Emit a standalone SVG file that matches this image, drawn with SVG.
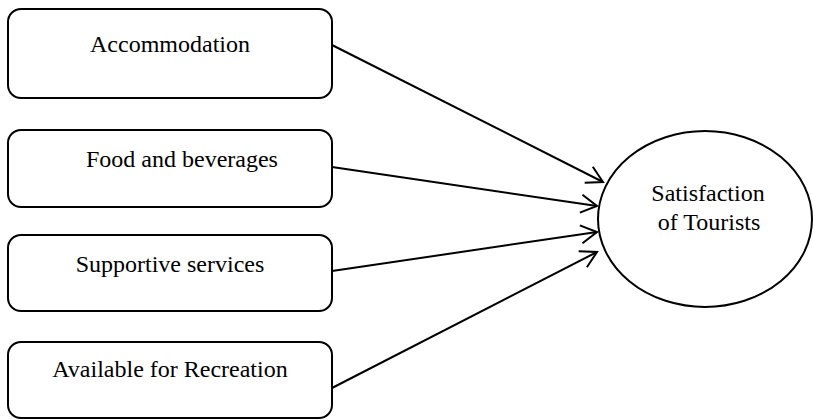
<svg xmlns="http://www.w3.org/2000/svg" width="813" height="420" viewBox="0 0 813 420">
<defs>
<marker id="arr" markerUnits="userSpaceOnUse" markerWidth="20" markerHeight="22" refX="16" refY="10" orient="auto" viewBox="-2 -1 20 22">
<path d="M0,1 L16,10 L0,19" fill="none" stroke="#000" stroke-width="2"/>
</marker>
</defs>
<style>
.box{fill:#fff;stroke:#000;stroke-width:2}
.t{font-family:'Liberation Serif', 'Times New Roman', Times, 'DejaVu Serif', serif;font-size:24px;fill:#000;text-anchor:middle}
.c{stroke:#000;stroke-width:2;fill:none;marker-end:url(#arr)}
</style>
<rect width="813" height="420" fill="#fff"/>
<g id="accommodation">
<rect class="box" x="8" y="9" width="324" height="89" rx="13"/>
<text class="t" x="170" y="52">Accommodation</text>
</g>
<g id="food">
<rect class="box" x="8" y="130" width="324" height="77" rx="13"/>
<text class="t" x="182" y="167">Food and beverages</text>
</g>
<g id="supportive">
<rect class="box" x="8" y="235" width="324" height="76" rx="13"/>
<text class="t" x="170" y="272">Supportive services</text>
</g>
<g id="recreation">
<rect class="box" x="8" y="342" width="324" height="76" rx="13"/>
<text class="t" x="170" y="377">Available for Recreation</text>
</g>
<g id="satisfaction">
<ellipse class="box" cx="705" cy="219" rx="107" ry="88"/>
<text class="t" x="708" y="201">Satisfaction</text>
<text class="t" x="709" y="230">of Tourists</text>
</g>
<g id="connectors">
<line class="c" x1="332" y1="45" x2="603" y2="182"/>
<line class="c" x1="332" y1="167" x2="597" y2="206"/>
<line class="c" x1="332" y1="271" x2="597" y2="232"/>
<line class="c" x1="332" y1="388" x2="597" y2="252"/>
</g>
</svg>
